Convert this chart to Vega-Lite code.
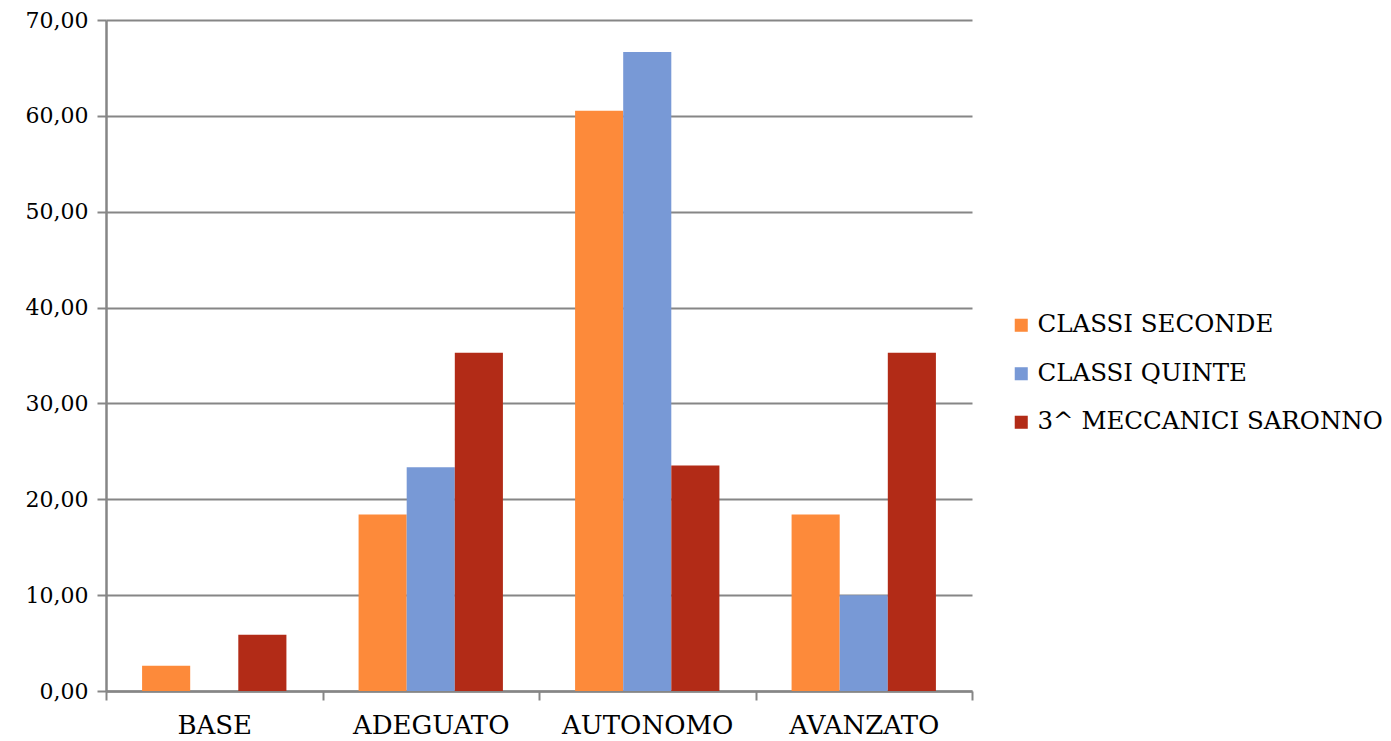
{
  "$schema": "https://vega.github.io/schema/vega-lite/v6.json",
  "width": 866,
  "height": 671,
  "autosize": {"type": "none"},
  "padding": {"left": 106, "top": 20, "right": 419, "bottom": 50},
  "background": "white",
  "config": {
    "view": {"stroke": null},
    "font": "DejaVu Serif",
    "axis": {"labelFont": "DejaVu Serif", "labelColor": "#000000"}
  },
  "data": {
    "values": [
      {"livello": "BASE", "serie": "CLASSI SECONDE", "valore": 2.63},
      {"livello": "BASE", "serie": "CLASSI QUINTE", "valore": 0},
      {"livello": "BASE", "serie": "3^ MECCANICI SARONNO", "valore": 5.88},
      {"livello": "ADEGUATO", "serie": "CLASSI SECONDE", "valore": 18.42},
      {"livello": "ADEGUATO", "serie": "CLASSI QUINTE", "valore": 23.33},
      {"livello": "ADEGUATO", "serie": "3^ MECCANICI SARONNO", "valore": 35.29},
      {"livello": "AUTONOMO", "serie": "CLASSI SECONDE", "valore": 60.53},
      {"livello": "AUTONOMO", "serie": "CLASSI QUINTE", "valore": 66.67},
      {"livello": "AUTONOMO", "serie": "3^ MECCANICI SARONNO", "valore": 23.53},
      {"livello": "AVANZATO", "serie": "CLASSI SECONDE", "valore": 18.42},
      {"livello": "AVANZATO", "serie": "CLASSI QUINTE", "valore": 10.0},
      {"livello": "AVANZATO", "serie": "3^ MECCANICI SARONNO", "valore": 35.29}
    ]
  },
  "mark": {"type": "bar"},
  "encoding": {
    "x": {
      "field": "livello",
      "type": "nominal",
      "sort": ["BASE", "ADEGUATO", "AUTONOMO", "AVANZATO"],
      "scale": {"paddingInner": 0, "paddingOuter": 0},
      "axis": {
        "title": null,
        "labelAngle": 0,
        "labelFontSize": 26,
        "domainColor": "#868686",
        "domainWidth": 2.5,
        "tickColor": "#868686",
        "tickWidth": 2,
        "tickSize": 9,
        "tickBand": "extent",
        "labelPadding": 12,
        "grid": false
      }
    },
    "xOffset": {
      "field": "serie",
      "type": "nominal",
      "sort": ["CLASSI SECONDE", "CLASSI QUINTE", "3^ MECCANICI SARONNO"],
      "scale": {"paddingInner": 0, "paddingOuter": 0.75}
    },
    "y": {
      "field": "valore",
      "type": "quantitative",
      "scale": {"domain": [0, 70], "nice": false},
      "axis": {
        "title": null,
        "values": [0, 10, 20, 30, 40, 50, 60, 70],
        "labelExpr": "replace(format(datum.value, '.2f'), '.', ',')",
        "labelFontSize": 22,
        "grid": true,
        "gridColor": "#868686",
        "gridWidth": 2,
        "domainColor": "#868686",
        "domainWidth": 2.5,
        "tickColor": "#868686",
        "tickWidth": 2,
        "tickSize": 9,
        "labelPadding": 9
      }
    },
    "color": {
      "field": "serie",
      "type": "nominal",
      "sort": ["CLASSI SECONDE", "CLASSI QUINTE", "3^ MECCANICI SARONNO"],
      "scale": {
        "domain": ["CLASSI SECONDE", "CLASSI QUINTE", "3^ MECCANICI SARONNO"],
        "range": ["#FD8A3A", "#7899D6", "#B22B17"]
      },
      "legend": {
        "title": null,
        "orient": "none",
        "legendX": 903,
        "legendY": 293,
        "symbolType": "square",
        "symbolSize": 170,
        "symbolStrokeWidth": 0,
        "labelFont": "DejaVu Serif",
        "labelFontSize": 24.5,
        "labelLimit": 500,
        "labelColor": "#000000",
        "labelOffset": 4,
        "rowPadding": 23.5,
        "padding": 0
      }
    }
  }
}
